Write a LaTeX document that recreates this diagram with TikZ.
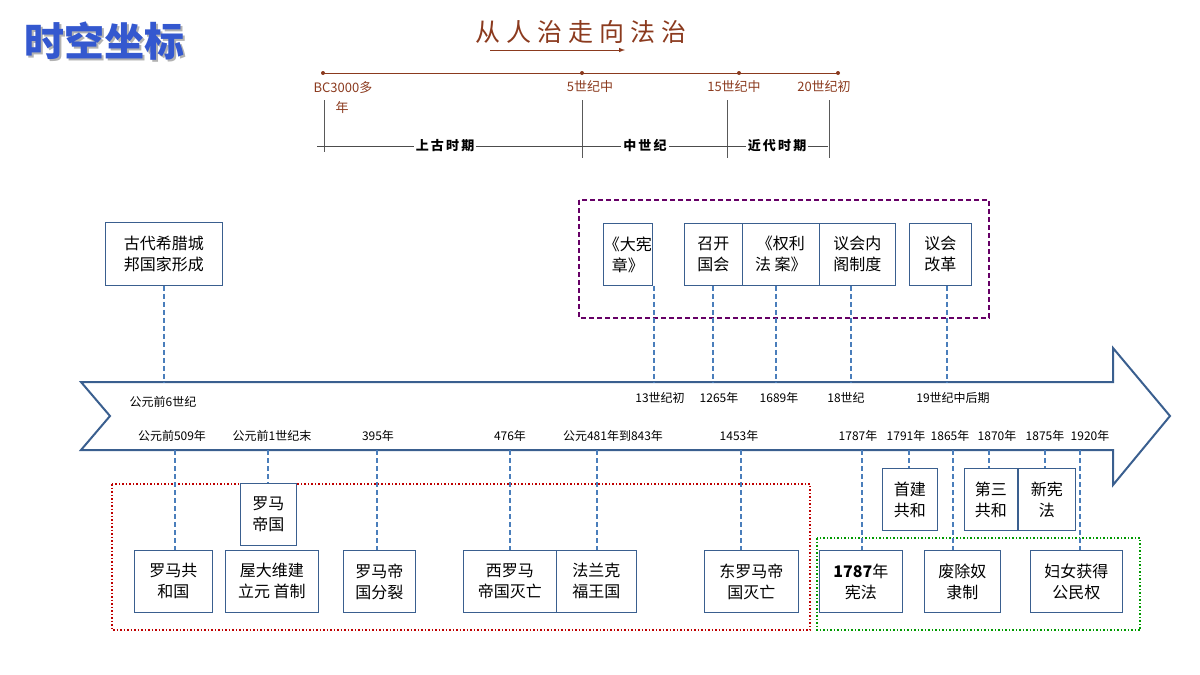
\documentclass[tikz,border=0pt]{standalone}
\usepackage{fontspec}
\setmainfont{Liberation Sans}
\newfontfamily\cjk{Noto Sans CJK SC}
\usetikzlibrary{shadows}
\definecolor{bl}{HTML}{4A7EBB}
\definecolor{ar}{HTML}{3A5F8F}
\definecolor{br}{HTML}{8B3A1E}
\begin{document}
\begin{tikzpicture}[x=1pt,y=-1pt,
 box/.style={draw=ar,line width=0.8pt,fill=white,font=\cjk\fontsize{16}{21}\selectfont,align=center,inner sep=0pt,anchor=north west},
 dl/.style={draw=bl,line width=1.5pt,dash pattern=on 5pt off 3pt},
 lab/.style={font=\cjk\fontsize{12}{14}\selectfont,inner sep=0pt},
 tl/.style={font=\cjk\fontsize{13}{15}\selectfont,text=br,inner sep=0pt},
 pl/.style={font=\cjk\bfseries\fontsize{13}{15}\selectfont,fill=white,inner sep=2pt}]
\useasboundingbox (0,0) rectangle (1200,675);
% title
\node[font=\cjk\bfseries\fontsize{40}{46}\selectfont,text=gray!60,anchor=west,inner sep=0pt] at (26,43) {时空坐标};
\node[font=\cjk\bfseries\fontsize{40}{46}\selectfont,text=bl!70!blue,anchor=west,inner sep=0pt] (title) at (24,41) {时空坐标};
\node[font=\cjk\fontsize{25}{29}\selectfont,text=br,inner sep=0pt] (sub) at (581,32) {从\hspace{6pt}人\hspace{6pt}治\hspace{6pt}走\hspace{6pt}向\hspace{6pt}法\hspace{6pt}治};
\coordinate (sa) at (490,50); \coordinate (sb) at (625,50);
\draw[br,line width=1pt,-latex] (sa) -- (sb);
% top timeline
\coordinate (t1) at (323,73); \coordinate (t2) at (582,73); \coordinate (t3) at (739,73); \coordinate (t4) at (838,73);
\draw[br,line width=0.8pt] (t1) -- (t4);
\foreach \p in {t1,t2,t3,t4} \fill[br] (\p) circle (2pt);
\node[tl] (l1) at (343,88) {BC3000多};
\node[tl] (l1b) at (342,108) {年};
\node[tl] (l2) at (590,87) {5世纪中};
\node[tl] (l3) at (734,87) {15世纪中};
\node[tl] (l4) at (824,87) {20世纪初};
\draw[gray!70!black,line width=1pt] (324,100) -- (324,152) (582,100) -- (582,158) (727,100) -- (727,158) (829,100) -- (829,158);
\draw[black!70,line width=0.8pt] (317,146) -- (828,146);
\node[pl] (p1) at (445,146) {上\,古\,时\,期};
\node[pl] (p2) at (645,146) {中\,世\,纪};
\node[pl] (p3) at (777,146) {近\,代\,时\,期};
% big arrow
\draw[ar,line width=2pt,line join=miter] (81,382) -- (1113,382) -- (1113,348) -- (1170,416) -- (1113,485) -- (1113,450) -- (81,450) -- (110,416) -- cycle;
% groups
\draw[violet!80!black,line width=1.6pt,dash pattern=on 5pt off 3pt] (579,200) rectangle (989,318);
\draw[red!75!black,line width=1.6pt,dash pattern=on 1.5pt off 2pt] (112,484) rectangle (810,630);
\draw[green!60!black,line width=1.6pt,dash pattern=on 1.5pt off 2pt] (817,538) rectangle (1140,630);
% upper boxes
\node[box,minimum width=117,minimum height=63] (g) at (105,222) {古代希腊城\\邦国家形成};
\node[box,minimum width=49,minimum height=62] (u1) at (603,223) {《大宪\\章》};
\node[box,minimum width=58,minimum height=62] (u2) at (684,223) {召开\\国会};
\node[box,minimum width=77,minimum height=62] (u3) at (742,223) {《权利\\法 案》};
\node[box,minimum width=76,minimum height=62] (u4) at (819,223) {议会内\\阁制度};
\node[box,minimum width=62,minimum height=62] (u5) at (909,223) {议会\\改革};
\coordinate (a0) at (164,382); \coordinate (a1) at (654,382); \coordinate (a2) at (713,382);
\coordinate (a3) at (776,382); \coordinate (a4) at (851,382); \coordinate (a5) at (947,382);
\draw[dl] (g.south -| a0) -- (a0);
\draw[dl] (u1.south -| a1) -- (a1);
\draw[dl] (u2.south -| a2) -- (a2);
\draw[dl] (u3.south -| a3) -- (a3);
\draw[dl] (u4.south -| a4) -- (a4);
\draw[dl] (u5.south -| a5) -- (a5);
\node[lab] at (163,402) {公元前6世纪};
\node[lab] at (660,398) {13世纪初};
\node[lab] at (719,398) {1265年};
\node[lab] at (779,398) {1689年};
\node[lab] at (846,398) {18世纪};
\node[lab] at (953,398) {19世纪中后期};
% lower labels
\foreach \x/\t in {172/公元前509年,272/公元前1世纪末,378/395年,510/476年,613/公元481年到843年,739/1453年,858/1787年,906/1791年,950/1865年,997/1870年,1045/1875年,1090/1920年}
  \node[lab] at (\x,436) {\t};
% lower boxes
\node[box,minimum width=78,minimum height=62] (b1) at (134,550) {罗马共\\和国};
\node[box,minimum width=56,minimum height=62] (b2) at (240,483) {罗马\\帝国};
\node[box,minimum width=93,minimum height=62] (b3) at (225,550) {屋大维建\\立元 首制};
\node[box,minimum width=72,minimum height=62] (b4) at (343,550) {罗马帝\\国分裂};
\node[box,minimum width=93,minimum height=62] (b5) at (463,550) {西罗马\\帝国灭亡};
\node[box,minimum width=80,minimum height=62] (b6) at (556,550) {法兰克\\福王国};
\node[box,minimum width=94,minimum height=62] (b7) at (704,550) {东罗马帝\\国灭亡};
\node[box,minimum width=83,minimum height=62,font=\cjk\fontsize{16}{21}\selectfont] (c1) at (819,550) {\textbf{1787}年\\宪法};
\node[box,minimum width=76,minimum height=62] (c2) at (924,550) {废除奴\\隶制};
\node[box,minimum width=92,minimum height=62] (c3) at (1030,550) {妇女获得\\公民权};
\node[box,minimum width=55,minimum height=62] (d1) at (882,468) {首建\\共和};
\node[box,minimum width=53,minimum height=62] (d2) at (964,468) {第三\\共和};
\node[box,minimum width=57,minimum height=62] (d3) at (1018,468) {新宪\\法};
\foreach \x/\n in {175/b1,268/b2,377/b4,510/b5,597/b6,741/b7,862/c1,909/d1,953/c2,989/d2,1045/d3,1080/c3}
  {\coordinate (q\n) at (\x,450); \draw[dl] (q\n) -- (\n.north -| q\n);}
\end{tikzpicture}
\end{document}
